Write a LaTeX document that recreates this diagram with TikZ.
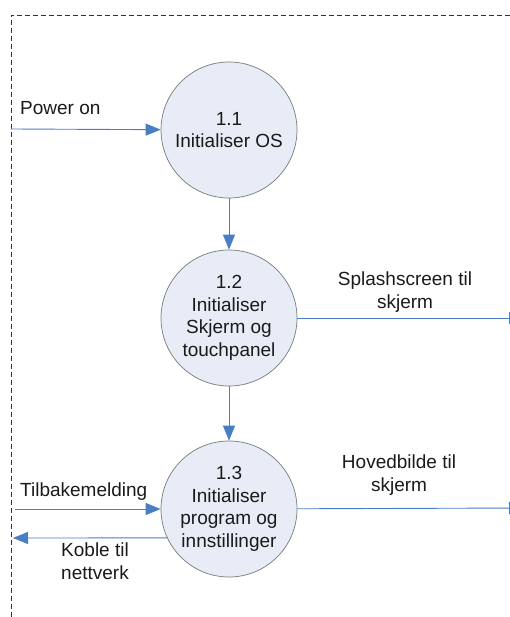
\documentclass[tikz,border=0pt]{standalone}
\usepackage{fontspec}
\setmainfont{Liberation Sans}
\usetikzlibrary{arrows.meta,positioning}
\definecolor{flowblue}{HTML}{4A7EC4}
\definecolor{procfill}{HTML}{E7ECF6}
\definecolor{procline}{HTML}{7A7A7A}
\definecolor{ink}{HTML}{1A1A1A}
\tikzset{
  every node/.style={font=\fontsize{19}{22.6}\selectfont,text=ink},
  proc/.style={circle,draw=procline,fill=procfill,minimum size=136pt,inner sep=0pt,align=center,line width=0.7pt},
  flow/.style={-{Triangle[length=15pt,width=12pt]},draw=flowblue,line width=0.9pt},
  lbl/.style={align=center,inner sep=0pt},
  border/.style={dashed,draw=ink!90,line width=0.7pt,dash pattern=on 5pt off 3pt},
}

\begin{document}
\begin{tikzpicture}[x=1pt,y=-1pt]
\useasboundingbox (0,0) rectangle (510,617);
\clip (0,0) rectangle (510,617);

% context boundary
\draw[border] (11,617) -- (11,15) -- (510,15);

% processes
\node[proc] (p11) at (229,130) {1.1\\Initialiser OS};
\node[proc] (p12) at (229,318) {1.2\\Initialiser\\Skjerm og\\touchpanel};
\node[proc] (p13) at (229,509) {1.3\\Initialiser\\program og\\innstillinger};

% free ends
\coordinate (pwr) at (11,129);
\coordinate (splash) at (524,318);
\coordinate (hoved) at (524,508);
\coordinate (tilbake) at (15,509);
\coordinate (koble) at (13,538);

\draw[flow] (pwr) -- (p11);
\draw[flow] (p11) -- (p12);
\draw[flow] (p12) -- (p13);
\draw[flow] (p12) -- (splash);
\draw[flow] (p13) -- (hoved);
\draw[flow] (tilbake) -- (p13);
\draw[flow] (p13.205) -- (koble);

% labels
\node[lbl,anchor=west] (lpwr) at (20,108) {Power on};
\node[lbl] (lsplash) at (405,292) {Splashscreen til\\skjerm};
\node[lbl] (lhoved) at (399,475) {Hovedbilde til\\skjerm};
\node[lbl,anchor=west] (ltilbake) at (20,492) {Tilbakemelding};
\node[lbl] (lkoble) at (95,561) {Koble til\\nettverk};

\end{tikzpicture}
\end{document}
